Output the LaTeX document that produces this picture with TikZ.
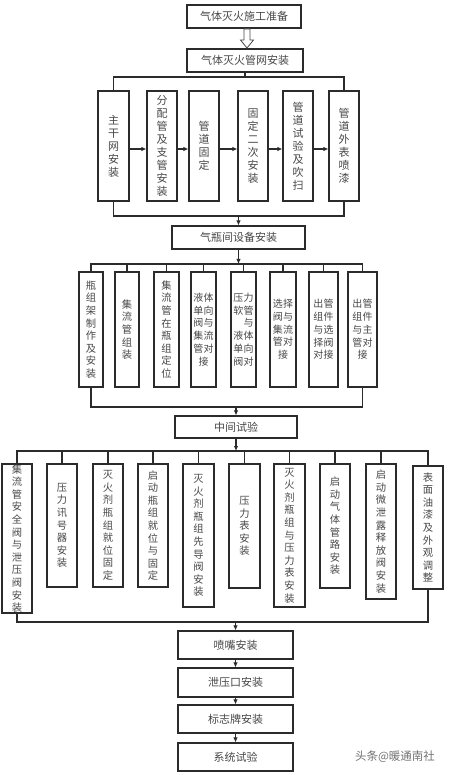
\documentclass[tikz,border=0pt]{standalone}
\usepackage{fontspec}
\setmainfont{Noto Sans CJK SC}
\usetikzlibrary{arrows.meta}
\XeTeXlinebreaklocale "zh"
\XeTeXlinebreakskip=0pt plus 1pt
\definecolor{ln}{HTML}{2B2B2B}
\definecolor{tx}{HTML}{484848}
\begin{document}
\begin{tikzpicture}[x=1pt,y=-1pt,
  line width=1.1pt,
  conn/.style={draw=ln, line width=1.1pt},
  arr/.style={conn, -{Latex[length=5pt,width=4.5pt]}},
  hbox/.style={draw=ln, line width=1.1pt, inner sep=0pt, text=tx, font=\fontsize{11}{13}\selectfont},
  vbox/.style={draw=ln, line width=1.1pt, inner sep=0pt, text=tx, align=center, text width=11pt, font=\fontsize{11}{13}\selectfont},
  vboxs/.style={draw=ln, line width=1.1pt, inner sep=0pt, text=tx, align=center, text width=11pt, font=\fontsize{10.3}{12.6}\selectfont},
  vboxd/.style={draw=ln, line width=1.1pt, inner sep=0pt, text=tx, align=center, text width=21pt, font=\fontsize{10}{12.7}\selectfont},
  hollow/.style={draw=tx, line width=0.8pt, fill=white}
]
\useasboundingbox[fill=white] (0,0) rectangle (448,775);

% top
\node[hbox, minimum width=114pt, minimum height=23pt] (T1) at (244,16.5) {气体灭火施工准备};
\node[hbox, minimum width=116pt, minimum height=23pt] (T2) at (245,60.5) {气体灭火管网安装};
\draw[hollow] (244,29) -- (250,29) -- (250,40) -- (253.5,40) -- (247,48) -- (240.5,40) -- (244,40) -- cycle;

% row 1
\coordinate (bus1) at (0,77);
\coordinate (bus2) at (0,216);
\node[vbox, minimum width=31pt, minimum height=110pt] (A1) at (113.5,146) {主干网安装};
\node[vbox, minimum width=30pt, minimum height=110pt] (A2) at (162,146) {分配管及支管安装};
\node[vbox, minimum width=30pt, minimum height=110pt] (A3) at (204,146) {管道固定};
\node[vbox, minimum width=30pt, minimum height=110pt] (A4) at (253,146) {固定二次安装};
\node[vbox, minimum width=30pt, minimum height=110pt] (A5) at (298,146) {管道试验及吹扫};
\node[vbox, minimum width=30pt, minimum height=110pt] (A6) at (344,146) {管道外表喷漆};
\draw[conn] (T2.south) -- (T2.south |- bus1);
\draw[conn] (A1.north) -- (A1.north |- bus1) -| (A6.north);
\draw[arr] ([yshift=-3pt]A1.east) -- ([yshift=-3pt]A2.west);
\draw[arr] ([yshift=-3pt]A2.east) -- ([yshift=-3pt]A3.west);
\draw[arr] ([yshift=-3pt]A3.east) -- ([yshift=-3pt]A4.west);
\draw[arr] ([yshift=-3pt]A4.east) -- ([yshift=-3pt]A5.west);
\draw[arr] ([yshift=-3pt]A5.east) -- ([yshift=-3pt]A6.west);
\draw[conn] (A1.south) -- (A1.south |- bus2) -| (A6.south);

\node[hbox, minimum width=133pt, minimum height=23pt] (B) at (238.5,237.5) {气瓶间设备安装};
\draw[arr] (B.north |- bus2) -- (B.north);

% row 2
\coordinate (bus3) at (0,264);
\coordinate (bus4) at (0,407);
\node[vboxs, minimum width=24pt, minimum height=115pt] (C1) at (91,329.5) {瓶组架制作及安装};
\node[vboxs, minimum width=24pt, minimum height=115pt] (C2) at (127,329.5) {集流管组装};
\node[vboxs, minimum width=25pt, minimum height=115pt] (C3) at (166.5,329.5) {集流管在瓶组定位};
\node[vboxd, minimum width=25pt, minimum height=115pt] (C4) at (203.5,329.5) {液体单向阀与集流管对接};
\node[vboxd, minimum width=25pt, minimum height=115pt] (C5) at (243.5,329.5) {压力\\软管\\\phantom{压}与\\液体\\单向\\阀对};
\node[vboxd, minimum width=26pt, minimum height=115pt] (C6) at (283,329.5) {选择阀与集流管对接};
\node[vboxd, minimum width=29pt, minimum height=115pt] (C7) at (323.5,329.5) {出管组件与选择阀对接};
\node[vboxd, minimum width=29pt, minimum height=115pt] (C8) at (362.5,329.5) {出管组件与主管对接};
\draw[arr] (B.south) -- (B.south |- bus3);
\draw[conn] (C1.north) -- (C1.north |- bus3) -| (C8.north);
\foreach \n in {C2,C3,C4,C5,C6,C7} \draw[conn] (\n.north) -- (\n.north |- bus3);
\draw[conn] (C1.south) -- (C1.south |- bus4) -| (C8.south);

\node[hbox, minimum width=122pt, minimum height=22pt] (D) at (236,427) {中间试验};
\draw[arr] (D.north |- bus4) -- (D.north);

% row 3
\coordinate (bus5) at (0,451);
\coordinate (bus6) at (0,622);
\node[vboxs, minimum width=30pt, minimum height=149pt] (E1) at (17,538.5) {集流管安全阀与泄压阀安装};
\node[vboxs, minimum width=30pt, minimum height=123pt] (E2) at (62,525.5) {压力讯号器安装};
\node[vboxs, minimum width=30pt, minimum height=123pt] (E3) at (108,525.5) {灭火剂瓶组就位固定};
\node[vboxs, minimum width=30pt, minimum height=123pt] (E4) at (153,525.5) {启动瓶组就位与固定};
\node[vboxs, minimum width=31pt, minimum height=143pt] (E5) at (198.5,535.5) {灭火剂瓶组先导阀安装};
\node[vboxs, minimum width=31pt, minimum height=124pt] (E6) at (244.5,526) {压力表安装};
\node[vboxs, minimum width=31pt, minimum height=143pt] (E7) at (289.5,535.5) {灭火剂瓶组与压力表安装};
\node[vboxs, minimum width=30pt, minimum height=124pt] (E8) at (335,526) {启动气体管路安装};
\node[vboxs, minimum width=30pt, minimum height=135pt] (E9) at (381,531.5) {启动微泄露释放阀安装};
\node[vboxs, minimum width=30pt, minimum height=123pt] (E10) at (428,527.5) {表面油漆及外观调整};
\draw[arr] (D.south) -- (D.south |- bus5);
\draw[conn] (E1.north) -- (E1.north |- bus5) -| (E10.north);
\foreach \n in {E2,E3,E4,E5,E6,E7,E8,E9} \draw[conn] (\n.north) -- (\n.north |- bus5);
\draw[conn] (E1.south) -- (E1.south |- bus6) -| (E10.south);

% bottom chain
\node[hbox, minimum width=115pt, minimum height=28pt] (F1) at (235.5,645) {喷嘴安装};
\node[hbox, minimum width=115pt, minimum height=29pt] (F2) at (235.5,682.5) {泄压口安装};
\node[hbox, minimum width=115pt, minimum height=28pt] (F3) at (235.5,719) {标志牌安装};
\node[hbox, minimum width=115pt, minimum height=28pt] (F4) at (235.5,757) {系统试验};
\draw[arr] (F1.north |- bus6) -- (F1.north);
\draw[arr] (F1.south) -- (F2.north);
\draw[arr] (F2.south) -- (F3.north);
\draw[arr] (F3.south) -- (F4.north);

\node[text=black!55, font=\fontsize{11.5}{12}\selectfont] (wm) at (395,757) {头条@暖通南社};
\end{tikzpicture}
\end{document}
